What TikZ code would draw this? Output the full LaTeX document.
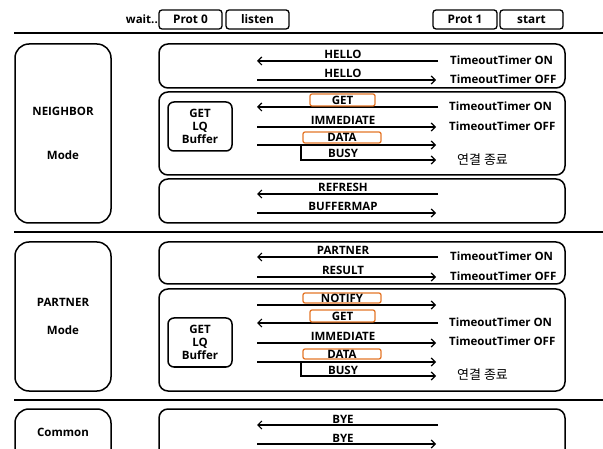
\documentclass[tikz,border=0pt]{standalone}
\usepackage{fontspec}
\setmainfont{Open Sans}
\newfontfamily\kr{Noto Sans CJK KR}
\usetikzlibrary{arrows.meta}
\definecolor{org}{RGB}{228,118,40}
\tikzset{
  rowbox/.style={draw,line width=1.5pt,rounded corners=9pt,inner sep=0pt},
  modebox/.style={draw,line width=1.5pt,rounded corners=14pt,inner sep=0pt},
  tab/.style={draw,line width=1.3pt,rounded corners=3pt,minimum height=19pt,inner sep=0pt,font=\bfseries\fontsize{11.8}{13}\selectfont},
  lbl/.style={font=\bfseries\fontsize{11.5}{13}\selectfont,inner sep=0pt},
  krl/.style={font=\kr\fontsize{13}{14}\selectfont,inner sep=0pt},
  obox/.style={lbl,draw=org,line width=1.3pt,rounded corners=2pt},
  msg/.style={line width=1.2pt},
  tip/.style={-{Straight Barb[length=4pt,width=8pt,line width=1.2pt]}},
  sep/.style={line width=1.2pt}
}
\newcommand\inmsg[3]{%
  \coordinate (#1L) at (257,#2); \coordinate (#1R) at (438,#2);
  \draw[msg,tip] (#1R) -- (#1L);
  \node[lbl,anchor=base] (#1T) at (343,#2-2) {#3};}
\newcommand\outmsg[3]{%
  \coordinate (#1L) at (257,#2); \coordinate (#1R) at (436,#2);
  \draw[msg,tip] (#1L) -- (#1R);
  \node[lbl,anchor=base] (#1T) at (343,#2-2) {#3};}
\begin{document}
\begin{tikzpicture}[x=1pt,y=-1pt]
\useasboundingbox (0,0) rectangle (603,449);
\clip (0,0) rectangle (603,449);
% top tabs
\node[lbl,anchor=east] (wait) at (158,19.5) {wait..};
\node[tab,minimum width=63pt] (p0) at (190.5,19.5) {Prot 0};
\node[tab,minimum width=63pt] (listen) at (257.5,19.5) {listen};
\node[tab,minimum width=64pt] (p1) at (465,19.5) {Prot 1};
\node[tab,minimum width=63pt] (start) at (531.5,19.5) {start};
\coordinate (s0a) at (14,33); \coordinate (s0b) at (603,33);
\draw[sep] (s0a) -- (s0b);
\coordinate (s1a) at (14,232); \coordinate (s1b) at (603,232);
\draw[sep] (s1a) -- (s1b);
\coordinate (s2a) at (14,400); \coordinate (s2b) at (603,400);
\draw[sep] (s2a) -- (s2b);
% mode boxes
\node[modebox,minimum width=96pt,minimum height=179pt] (nb) at (63,133.5) {};
\node[lbl] (nbt) at (63,111) {NEIGHBOR};
\node[lbl] (nbm) at (63,155) {Mode};
\node[modebox,minimum width=96pt,minimum height=149pt] (pb) at (63,316.5) {};
\node[lbl] (pbt) at (63,302) {PARTNER};
\node[lbl] (pbm) at (63,330) {Mode};
\node[modebox,minimum width=96pt,minimum height=80pt] (cb) at (63,449) {};
\node[lbl] (cbt) at (63,432) {Common};
% row boxes
\node[rowbox,minimum width=406pt,minimum height=44pt] (r1) at (362,66) {};
\node[rowbox,minimum width=406pt,minimum height=83pt] (r2) at (362,133.5) {};
\node[rowbox,minimum width=406pt,minimum height=44pt] (r3) at (362,201) {};
\node[rowbox,minimum width=406pt,minimum height=42pt] (r4) at (362,263) {};
\node[rowbox,minimum width=406pt,minimum height=102pt] (r5) at (362,340) {};
\node[rowbox,minimum width=406pt,minimum height=80pt] (r6) at (362,449) {};
% GET LQ Buffer
\node[rowbox,rounded corners=6pt,minimum width=64pt,minimum height=49pt,lbl,align=center,font=\bfseries\fontsize{11.5}{13}\selectfont] (g1) at (200,126.5) {GET\\LQ\\Buffer};
\node[rowbox,rounded corners=6pt,minimum width=64pt,minimum height=49pt,lbl,align=center,font=\bfseries\fontsize{11.5}{13}\selectfont] (g2) at (200,342.5) {GET\\LQ\\Buffer};
% NEIGHBOR messages
\inmsg{h1}{61}{HELLO}
\outmsg{h2}{80}{HELLO}
\node[lbl,anchor=west] (t1) at (450,60) {TimeoutTimer ON};
\node[lbl,anchor=west] (t2) at (450,79) {TimeoutTimer OFF};
\coordinate (gaL) at (257,107); \coordinate (gaR) at (438,107);
\draw[msg,tip] (gaR) -- (gaL);
\node[obox,minimum width=65pt,minimum height=12pt] (gaT) at (342.5,100) {GET};
\outmsg{ia}{127}{IMMEDIATE}
\coordinate (daL) at (257,145); \coordinate (daR) at (436,145);
\draw[msg,tip] (daL) -- (daR);
\node[obox,minimum width=78pt,minimum height=11pt] (daT) at (342,137.5) {DATA};
\coordinate (baB) at (301,145); \coordinate (baR) at (436,160);
\draw[msg,tip] (baB) |- (baR);
\node[lbl,anchor=base] (baT) at (343,158) {BUSY};
\node[lbl,anchor=west] (t3) at (449,106) {TimeoutTimer ON};
\node[lbl,anchor=west] (t4) at (449,126) {TimeoutTimer OFF};
\node[krl,anchor=west] (k1) at (457,160) {연결 종료};
\inmsg{rf}{194}{REFRESH}
\outmsg{bm}{213}{BUFFERMAP}
% PARTNER messages
\inmsg{pa}{257}{PARTNER}
\outmsg{rs}{277}{RESULT}
\node[lbl,anchor=west] (t5) at (450,256) {TimeoutTimer ON};
\node[lbl,anchor=west] (t6) at (450,276) {TimeoutTimer OFF};
\coordinate (nfL) at (257,305); \coordinate (nfR) at (436,305);
\draw[msg,tip] (nfL) -- (nfR);
\node[obox,minimum width=78pt,minimum height=10pt] (nfT) at (342,298) {NOTIFY};
\coordinate (gbL) at (257,323); \coordinate (gbR) at (438,323);
\draw[msg,tip] (gbR) -- (gbL);
\node[obox,minimum width=65pt,minimum height=12pt] (gbT) at (342.5,316) {GET};
\outmsg{ib}{343}{IMMEDIATE}
\coordinate (dbL) at (257,362); \coordinate (dbR) at (436,362);
\draw[msg,tip] (dbL) -- (dbR);
\node[obox,minimum width=78pt,minimum height=10pt] (dbT) at (342,354) {DATA};
\coordinate (bbB) at (301,362); \coordinate (bbR) at (436,376);
\draw[msg,tip] (bbB) |- (bbR);
\node[lbl,anchor=base] (bbT) at (343,374) {BUSY};
\node[lbl,anchor=west] (t7) at (449,322) {TimeoutTimer ON};
\node[lbl,anchor=west] (t8) at (449,341) {TimeoutTimer OFF};
\node[krl,anchor=west] (k2) at (457,375) {연결 종료};
% Common
\inmsg{by1}{425}{BYE}
\outmsg{by2}{444}{BYE}
\end{tikzpicture}
\end{document}
